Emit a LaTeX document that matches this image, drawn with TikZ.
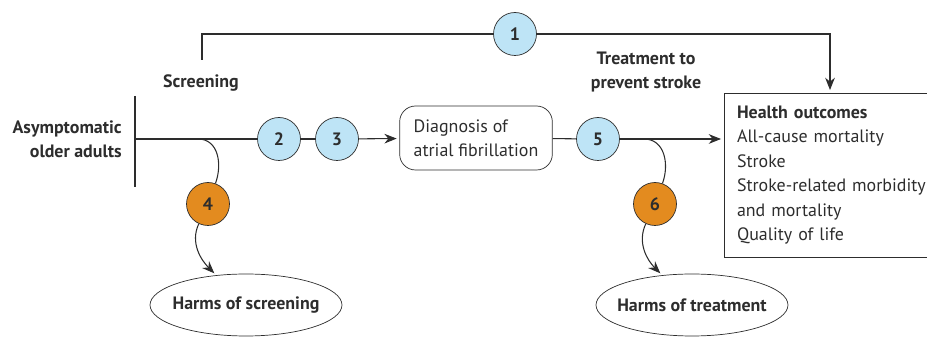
\documentclass[tikz,border=0pt]{standalone}
\usepackage{fontspec}
\setmainfont{PT Sans}
\definecolor{kqblue}{RGB}{190,228,246}
\definecolor{kqorange}{RGB}{227,139,31}
\definecolor{kqline}{RGB}{45,45,45}
\newcommand{\kqfont}{\fontsize{10.2pt}{13.9pt}\selectfont}
\usetikzlibrary{arrows.meta,shapes.geometric,calc}

\begin{document}
\begin{tikzpicture}[x=0.02cm, y=-0.02cm,
  every node/.style={font=\kqfont, text=kqline},
  kq/.style={
    circle, draw=kqline, fill=kqblue,
    minimum size=0.86cm, inner sep=0pt,
    font=\kqfont\bfseries
  },
  kqharm/.style={kq, fill=kqorange},
  harm/.style={
    ellipse, draw=kqline,
    inner xsep=-0.2cm, inner ysep=0pt,
    minimum width=3.84cm, minimum height=1.24cm,
    font=\kqfont\bfseries
  },
  lbl/.style={font=\kqfont\bfseries, align=center},
  plain/.style={draw=kqline, line width=0.6pt},
  conn/.style={-{Stealth[length=7pt,width=5.5pt]}, draw=kqline, line width=0.6pt, shorten >=1.5pt}
]
\clip (0,0) rectangle (927,337);

% population and screening
\node[lbl, align=right, anchor=east, inner xsep=0pt] (pop) at (122,139) {Asymptomatic\\older adults};
\coordinate (bartop) at (135,96);
\coordinate (barbot) at (135,187);
\coordinate (bar) at (135,139);
\draw[plain] (bartop) -- (barbot);
\node[lbl] (scr) at (201,83) {Screening};
\node[lbl] (trt) at (646,72) {Treatment to\\prevent stroke};

\node[kq] (kq1) at (515,34)  {1};
\node[kq] (kq2) at (279,139) {2};
\node[kq] (kq3) at (337,139) {3};
\node[kq] (kq5) at (598,139) {5};
\node[kqharm] (kq4) at (208,204) {4};
\node[kqharm] (kq6) at (655,204) {6};

\node[draw=kqline, rounded corners=9pt, minimum width=3.04cm, minimum height=1.28cm,
      inner xsep=0.28cm, align=left] (diag) at (476,138)
  {Diagnosis of\\atrial fibrillation};
\node[draw=kqline, minimum width=4.8cm, minimum height=3.28cm,
      text width=4.28cm, inner xsep=0.26cm, align=left] (outc) at (844,175)
  {\textbf{Health outcomes}\\All-cause mortality\\Stroke\\Stroke-related morbidity\\and mortality\\Quality of life};

\node[harm] (harm1) at (246,305) {Harms of screening};
\node[harm] (harm2) at (692,305) {Harms of treatment};

% overarching path
\coordinate (top1) at (202,60);
\draw[plain] (top1) |- (kq1);
\draw[conn] (kq1) -| ([xshift=-0.28cm]outc.north);

% main path
\draw[plain] (bar) -- (kq2);
\draw[plain] (kq2) -- (kq3);
\draw[conn] (kq3) -- (diag);
\draw[plain] (diag) -- (kq5);
\draw[conn] (kq5) -- (kq5 -| outc.west);

% harms
\coordinate (split4) at (198,139);
\coordinate (split6) at (644,139);
\draw[plain] (split4) to[out=0, in=70, looseness=1.1] (kq4);
\draw[conn] (kq4) to[out=245, in=135] (harm1);
\draw[plain] (split6) to[out=0, in=70, looseness=1.1] (kq6);
\draw[conn] (kq6) to[out=245, in=135] (harm2);
\end{tikzpicture}
\end{document}
